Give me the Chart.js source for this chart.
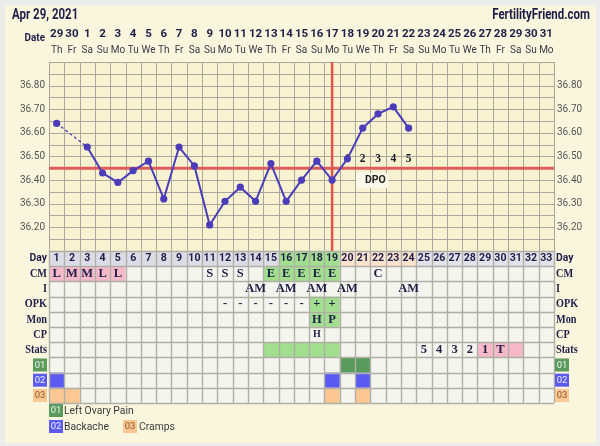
<!DOCTYPE html>
<html>
<head>
<meta charset="utf-8">
<script src="https://cdn.jsdelivr.net/npm/chart.js@4.4.1/dist/chart.umd.min.js"></script>
<style>
  html, body { margin: 0; padding: 0; background: #ececec; }
  canvas { display: block; }
</style>
</head>
<body>
<canvas id="ffChart" width="600" height="446"></canvas>
<script>
(function () {
    'use strict';

    // ---- chart data ----
    var chartDate = 'Apr 29, 2021';
    var siteName = 'FertilityFriend.com';
    var dateNums = ['29', '30', '1', '2', '3', '4', '5', '6', '7', '8', '9', '10', '11', '12', '13', '14',
        '15', '16', '17', '18', '19', '20', '21', '22', '23', '24', '25', '26', '27', '28', '29', '30', '31'];
    var weekDays = ['Th', 'Fr', 'Sa', 'Su', 'Mo', 'Tu', 'We', 'Th', 'Fr', 'Sa', 'Su', 'Mo', 'Tu', 'We',
        'Th', 'Fr', 'Sa', 'Su', 'Mo', 'Tu', 'We', 'Th', 'Fr', 'Sa', 'Su', 'Mo', 'Tu', 'We',
        'Th', 'Fr', 'Sa', 'Su', 'Mo'];
    var cycleDays = ['1', '2', '3', '4', '5', '6', '7', '8', '9', '10', '11', '12', '13', '14', '15', '16',
        '17', '18', '19', '20', '21', '22', '23', '24', '25', '26', '27', '28', '29', '30', '31', '32', '33'];
    var temps = [36.64, null, 36.54, 36.43, 36.39, 36.44, 36.48, 36.32, 36.54, 36.46, 36.21, 36.31,
        36.37, 36.31, 36.47, 36.31, 36.40, 36.48, 36.40, 36.49, 36.62, 36.68, 36.71, 36.62];
    var tempTicks = [36.20, 36.30, 36.40, 36.50, 36.60, 36.70, 36.80];
    var tempMin = 36.10, tempMax = 36.90, tempStep = 0.05;
    var coverline = 36.45;
    var ovulationDay = 19;
    var dpoLabels = ['1', '2', '3', '4', '5'];
    var dpoFirstDay = 20;

    var rowNames = ['Day', 'CM', 'I', 'OPK', 'Mon', 'CP', 'Stats', '01', '02', '03'];
    var cmMarks = [[1, 'L'], [2, 'M'], [3, 'M'], [4, 'L'], [5, 'L'], [11, 'S'], [12, 'S'], [13, 'S'],
        [15, 'E'], [16, 'E'], [17, 'E'], [18, 'E'], [19, 'E'], [22, 'C']];
    var intercourseMarks = [[14, 'AM'], [16, 'AM'], [18, 'AM'], [20, 'AM'], [24, 'AM']];
    var opkMarks = [[12, '-'], [13, '-'], [14, '-'], [15, '-'], [16, '-'], [17, '-'], [18, '+'], [19, '+']];
    var monMarks = [[18, 'H'], [19, 'P']];
    var cpMarks = [[18, 'H']];
    var statsMarks = [[25, '5'], [26, '4'], [27, '3'], [28, '2'], [29, '1'], [30, 'T']];

    // [row, first day, last day, colour key]
    var cellFills = [
        ['Day', 1, 15, 'dayA'], ['Day', 16, 19, 'green'], ['Day', 20, 24, 'dayC'], ['Day', 25, 33, 'dayB'],
        ['CM', 1, 5, 'pink'], ['CM', 15, 19, 'green'],
        ['OPK', 18, 19, 'green'], ['Mon', 18, 19, 'green'],
        ['Stats', 15, 19, 'green'], ['Stats', 29, 31, 'pink'],
        ['01', 20, 21, 'sym1'],
        ['02', 1, 1, 'sym2'], ['02', 19, 19, 'sym2'], ['02', 21, 21, 'sym2'],
        ['03', 1, 2, 'sym3'], ['03', 19, 19, 'sym3'], ['03', 21, 21, 'sym3']
    ];
    var symptomLegend = [['01', 'Left Ovary Pain'], ['02', 'Backache'], ['03', 'Cramps']];

    var COLORS = {
        dayA: '#dcdce6', dayB: '#e2e2ea', dayC: '#fde3cd', green: '#a1de8d', pink: '#f5b9c9',
        sym1: '#5b9a5d', sym2: '#5b5bf3', sym3: '#fcc793'
    };
    var BADGES = { '01': ['#5b9a5d', '#eef6ee'], '02': ['#5b5bf3', '#eeeeff'], '03': ['#fcc793', '#8a5a2c'] };
    var NAVY = '#1e1e48';
    var LINE = '#4b3cb9';
    var SERIF = '"Liberation Serif", "DejaVu Serif", serif';
    var SANS = 'Roboto, "Liberation Sans", sans-serif';

    var markRows = { CM: cmMarks, I: intercourseMarks, OPK: opkMarks, Mon: monMarks, CP: cpMarks, Stats: statsMarks };

    function text(ctx, str, x, y, font, color, align, squeeze) {
        ctx.save();
        ctx.font = font;
        ctx.fillStyle = color;
        ctx.textAlign = align || 'center';
        ctx.textBaseline = 'middle';
        if (squeeze) {
            // the site's faces are condensed ones
            ctx.translate(x, y);
            ctx.scale(squeeze, 1);
            ctx.fillText(str, 0, 0);
        } else {
            ctx.fillText(str, x, y);
        }
        ctx.restore();
    }

    function badge(ctx, code, x, y) {
        var c = BADGES[code];
        ctx.fillStyle = c[0];
        ctx.fillRect(x, y, 14, 13);
        text(ctx, code, x + 7, y + 7, '9.5px ' + SANS, c[1]);
    }

    var backdrop = {
        id: 'ffBackdrop',
        beforeDatasetsDraw: function (chart) {
            var ctx = chart.ctx;
            var xs = chart.scales.x, ys = chart.scales.y, yr = chart.scales.yRows;
            var left = xs.getPixelForValue(0), right = xs.getPixelForValue(cycleDays.length);
            var tTop = ys.getPixelForValue(tempMax), tBot = ys.getPixelForValue(tempMin);
            var rTop = yr.getPixelForValue(0), rBot = yr.getPixelForValue(rowNames.length);
            function colL(d) { return xs.getPixelForValue(d - 1); }
            function colC(d) { return xs.getPixelForValue(d - 0.5); }
            function rowY(i) { return yr.getPixelForValue(i); }
            function rowMid(i) { return yr.getPixelForValue(i + 0.5); }
            var i, d, x, y;

            ctx.save();
            // panel
            ctx.fillStyle = '#ececec';
            ctx.fillRect(0, 0, chart.width, chart.height);
            ctx.fillStyle = '#faf5dd';
            ctx.fillRect(5, 6, 591, 437);

            // header
            text(ctx, chartDate, 12, 15, 'bold 14px ' + SANS, NAVY, 'left', 0.82);
            text(ctx, siteName, 590, 15, 'bold 14px ' + SANS, NAVY, 'right', 0.82);
            text(ctx, 'Date', 45, 38, 'bold 11px ' + SANS, NAVY, 'right', 0.9);
            for (d = 1; d <= dateNums.length; d++) {
                text(ctx, dateNums[d - 1], colC(d), 34, 'bold 11.5px ' + SANS, NAVY);
                text(ctx, weekDays[d - 1], colC(d), 50, '10px ' + SANS, '#3a3a4a');
            }

            // temperature grid
            ctx.fillStyle = '#f8f2d0';
            ctx.fillRect(left, tTop, right - left, tBot - tTop);
            ctx.strokeStyle = '#aaa89c';
            ctx.lineWidth = 1;
            ctx.beginPath();
            for (i = 0; i <= Math.round((tempMax - tempMin) / tempStep); i++) {
                y = Math.round(ys.getPixelForValue(tempMin + i * tempStep)) + 0.5;
                ctx.moveTo(left, y); ctx.lineTo(right, y);
            }
            for (d = 0; d <= cycleDays.length; d++) {
                x = Math.round(xs.getPixelForValue(d)) + 0.5;
                ctx.moveTo(x, tTop); ctx.lineTo(x, tBot);
            }
            ctx.stroke();

            tempTicks.forEach(function (t) {
                y = ys.getPixelForValue(t);
                text(ctx, t.toFixed(2), 45, y, '10px ' + SANS, '#555555', 'right');
                text(ctx, t.toFixed(2), 557, y, '10px ' + SANS, '#555555', 'left');
            });

            // DPO marks
            dpoLabels.forEach(function (s, k) {
                text(ctx, s, colC(dpoFirstDay + k), ys.getPixelForValue(36.49), 'bold 11.5px ' + SERIF, '#1a1a2e');
            });
            ctx.fillStyle = '#fbf8e9';
            ctx.fillRect(xs.getPixelForValue(20) + 1, ys.getPixelForValue(36.43), xs.getPixelForValue(22.1) - xs.getPixelForValue(20), ys.getPixelForValue(36.366) - ys.getPixelForValue(36.43));
            text(ctx, 'DPO', xs.getPixelForValue(21.33), ys.getPixelForValue(36.40), 'bold 10.5px ' + SANS, '#222');

            // table cells
            ctx.fillStyle = '#f5f5f0';
            ctx.fillRect(left, rTop, right - left, rBot - rTop);
            cellFills.forEach(function (f) {
                var r = rowNames.indexOf(f[0]);
                ctx.fillStyle = COLORS[f[3]];
                ctx.fillRect(colL(f[1]), rowY(r), colL(f[2] + 1) - colL(f[1]), rowY(r + 1) - rowY(r));
            });
            ctx.strokeStyle = '#b0afa5';
            ctx.lineWidth = 1.4;
            ctx.beginPath();
            for (i = 0; i <= rowNames.length; i++) {
                y = Math.round(rowY(i)) + 0.5;
                ctx.moveTo(left, y); ctx.lineTo(right, y);
            }
            for (d = 0; d <= cycleDays.length; d++) {
                x = Math.round(xs.getPixelForValue(d)) + 0.5;
                ctx.moveTo(x, rTop); ctx.lineTo(x, rBot);
            }
            ctx.stroke();

            // row labels, both sides
            rowNames.forEach(function (name, r) {
                y = rowMid(r);
                if (BADGES[name]) {
                    badge(ctx, name, 33, y - 6.5);
                    badge(ctx, name, 555, y - 6.5);
                } else {
                    var font = name === 'Day' ? 'bold 11.5px ' + SANS : 'bold 12.5px ' + SERIF;
                    var sq = name === 'Day' ? 0.9 : 0.82;
                    text(ctx, name, 47, y, font, NAVY, 'right', sq);
                    text(ctx, name, 556, y, font, NAVY, 'left', sq);
                }
            });
            cycleDays.forEach(function (s, k) {
                text(ctx, s, colC(k + 1), rowMid(0), 'bold 11.5px ' + SANS, NAVY, 'center', 0.92);
            });
            Object.keys(markRows).forEach(function (name) {
                var r = rowNames.indexOf(name);
                markRows[name].forEach(function (m) {
                    var small = name === 'CP';
                    text(ctx, m[1], colC(m[0]), rowMid(r), 'bold ' + (small ? '10px ' : '12.5px ') + SERIF, NAVY);
                });
            });

            // symptom legend
            badge(ctx, symptomLegend[0][0], 49, 404);
            text(ctx, symptomLegend[0][1], 64, 411, '11.5px ' + SANS, '#3a3a3a', 'left', 0.9);
            badge(ctx, symptomLegend[1][0], 49, 420);
            text(ctx, symptomLegend[1][1], 64, 427, '11.5px ' + SANS, '#3a3a3a', 'left', 0.9);
            badge(ctx, symptomLegend[2][0], 123, 420);
            text(ctx, symptomLegend[2][1], 139, 427, '11.5px ' + SANS, '#3a3a3a', 'left', 0.9);
            ctx.restore();
        }
    };

    var tempPoints = temps.map(function (t, k) { return { x: k + 0.5, y: t }; });

    new Chart(document.getElementById('ffChart'), {
        type: 'line',
        data: {
            datasets: [{
                label: 'Temperature',
                data: tempPoints,
                borderColor: LINE,
                backgroundColor: LINE,
                borderWidth: 2,
                pointRadius: 3.6,
                pointBorderWidth: 0,
                spanGaps: true,
                segment: {
                    borderDash: function (c) { return (c.p0.skip || c.p1.skip) ? [3, 2.5] : undefined; },
                    borderWidth: function (c) { return (c.p0.skip || c.p1.skip) ? 1.3 : undefined; }
                },
                yAxisID: 'y'
            }, {
                label: 'Ovulation',
                data: [{ x: ovulationDay - 0.5, y: tempMin }, { x: ovulationDay - 0.5, y: tempMax }],
                borderColor: '#e0544e',
                borderWidth: 2.5,
                pointRadius: 0,
                yAxisID: 'y'
            }, {
                label: 'Coverline',
                data: [{ x: 0, y: coverline }, { x: cycleDays.length, y: coverline }],
                borderColor: '#dd5d5b',
                borderWidth: 3,
                pointRadius: 0,
                yAxisID: 'y'
            }]
        },
        options: {
            responsive: false,
            devicePixelRatio: 1,
            animation: false,
            layout: { padding: { left: 49, right: 46, top: 62, bottom: 43 } },
            plugins: { legend: { display: false }, tooltip: { enabled: false } },
            scales: {
                x: { type: 'linear', min: 0, max: cycleDays.length, display: false },
                // left-hand boxes are laid out last-first, so the table axis comes before the temperature one
                yRows: { type: 'linear', axis: 'y', position: 'left', min: 0, max: rowNames.length,
                         reverse: true, display: false, stack: 'ff', stackWeight: 152 },
                y: { type: 'linear', position: 'left', min: tempMin, max: tempMax, display: false,
                     stack: 'ff', stackWeight: 188.8 }
            }
        },
        plugins: [backdrop]
    });
})();
</script>
</body>
</html>
